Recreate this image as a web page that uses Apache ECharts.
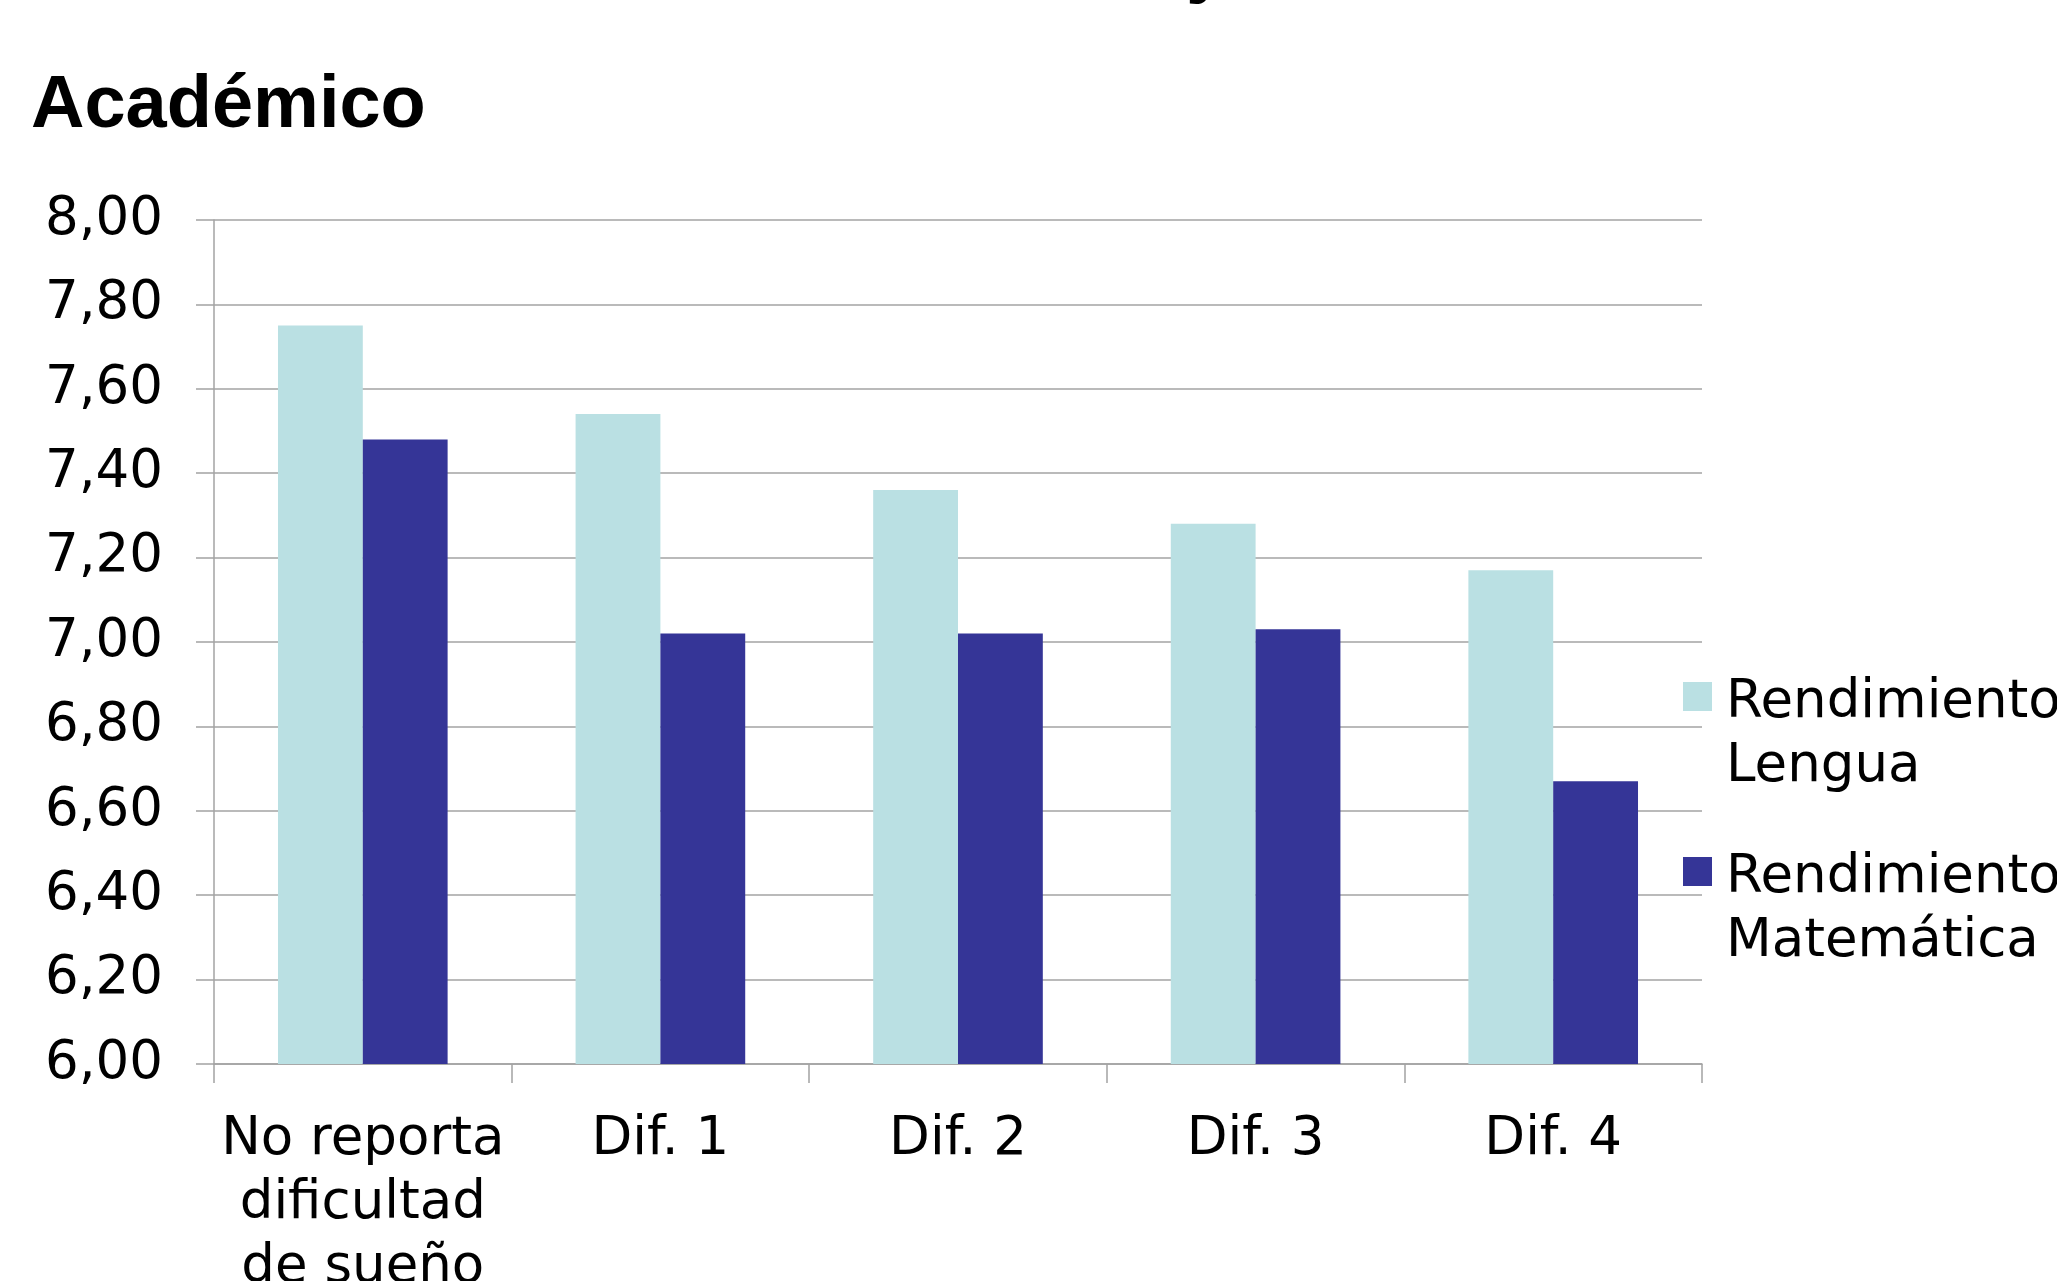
<!DOCTYPE html>
<html>
<head>
<meta charset="utf-8">
<script src="https://cdn.jsdelivr.net/npm/echarts@6/dist/echarts.min.js"></script>
<style>
  html, body { margin: 0; padding: 0; background: #ffffff; }
  #chart { width: 2057px; height: 1281px; }
</style>
</head>
<body>
<div id="chart"></div>
<script>
// ---- data ----
const categories = ['No reporta\ndificultad\nde sueño', 'Dif. 1', 'Dif. 2', 'Dif. 3', 'Dif. 4'];
const seriesNames = ['Rendimiento Lengua', 'Rendimiento Matemática'];
const lengua = [7.75, 7.54, 7.36, 7.28, 7.17];
const matematica = [7.48, 7.02, 7.02, 7.03, 6.67];
const yTicks = { min: 6, max: 8, interval: 0.2 };
const titleText = 'Académico';

const FONT = 'DejaVu Sans';
const GRID_COLOR = '#a3a3a3';
const colorLengua = '#bae0e3';
const colorMate = '#353597';

const chart = echarts.init(document.getElementById('chart'), null, { renderer: 'canvas' });

function legendFor(name, top) {
  return {
    data: [name],
    left: 1683,
    top: top,
    padding: 0,
    itemWidth: 29,
    itemHeight: 29,
    icon: 'rect',
    formatter: function (n) {
      const parts = n.split(' ');
      return '{e|}\n{a|' + parts[0] + '}\n{a|' + parts.slice(1).join(' ') + '}';
    },
    textStyle: {
      fontFamily: FONT,
      fontSize: 53,
      color: '#000',
      rich: {
        e: { height: 77, lineHeight: 77, fontSize: 53, fontFamily: FONT },
        a: { lineHeight: 64, fontSize: 53, fontFamily: FONT, color: '#000', padding: [0, 0, 0, 9] }
      }
    }
  };
}

const option = {
  backgroundColor: '#ffffff',
  animation: false,
  title: {
    text: titleText,
    left: 31,
    top: 70,
    padding: 0,
    textStyle: { fontFamily: 'Liberation Sans', fontWeight: 'bold', fontSize: 74, color: '#000' }
  },
  graphic: [{
    type: 'text',
    x: 1186,
    y: -31,
    style: { text: 'y', font: 'bold 74px "Liberation Sans"', fill: '#000', verticalAlign: 'middle' }
  }],
  legend: [legendFor(seriesNames[0], 594), legendFor(seriesNames[1], 769)],
  grid: { left: 214, right: 355, top: 220, bottom: 217, containLabel: false, outerBoundsMode: 'none' },
  xAxis: {
    type: 'category',
    data: categories,
    boundaryGap: true,
    axisLine: { show: true, lineStyle: { color: GRID_COLOR, width: 1.5 } },
    axisTick: { show: true, length: 19, alignWithLabel: false, lineStyle: { color: GRID_COLOR, width: 1.5 } },
    axisLabel: {
      interval: 0, margin: 44, color: '#000', fontFamily: FONT, fontSize: 53, lineHeight: 64, align: 'center',
      hideOverlap: false
    },
    splitLine: { show: false }
  },
  yAxis: {
    type: 'value',
    min: yTicks.min,
    max: yTicks.max,
    interval: yTicks.interval,
    axisLine: { show: true, lineStyle: { color: GRID_COLOR, width: 1.5 } },
    axisTick: { show: true, length: 18, lineStyle: { color: GRID_COLOR, width: 1.5 } },
    axisLabel: {
      margin: 51, color: '#000', fontFamily: FONT, fontSize: 53,
      formatter: function (v) { return v.toFixed(2).replace('.', ','); }
    },
    splitLine: { show: true, lineStyle: { color: GRID_COLOR, width: 1.5 } }
  },
  series: [
    { name: seriesNames[0], type: 'bar', data: lengua, barGap: '0%', barCategoryGap: '43%',
      itemStyle: { color: colorLengua } },
    { name: seriesNames[1], type: 'bar', data: matematica, barGap: '0%', barCategoryGap: '43%',
      itemStyle: { color: colorMate } }
  ]
};

chart.setOption(option);
</script>
</body>
</html>
